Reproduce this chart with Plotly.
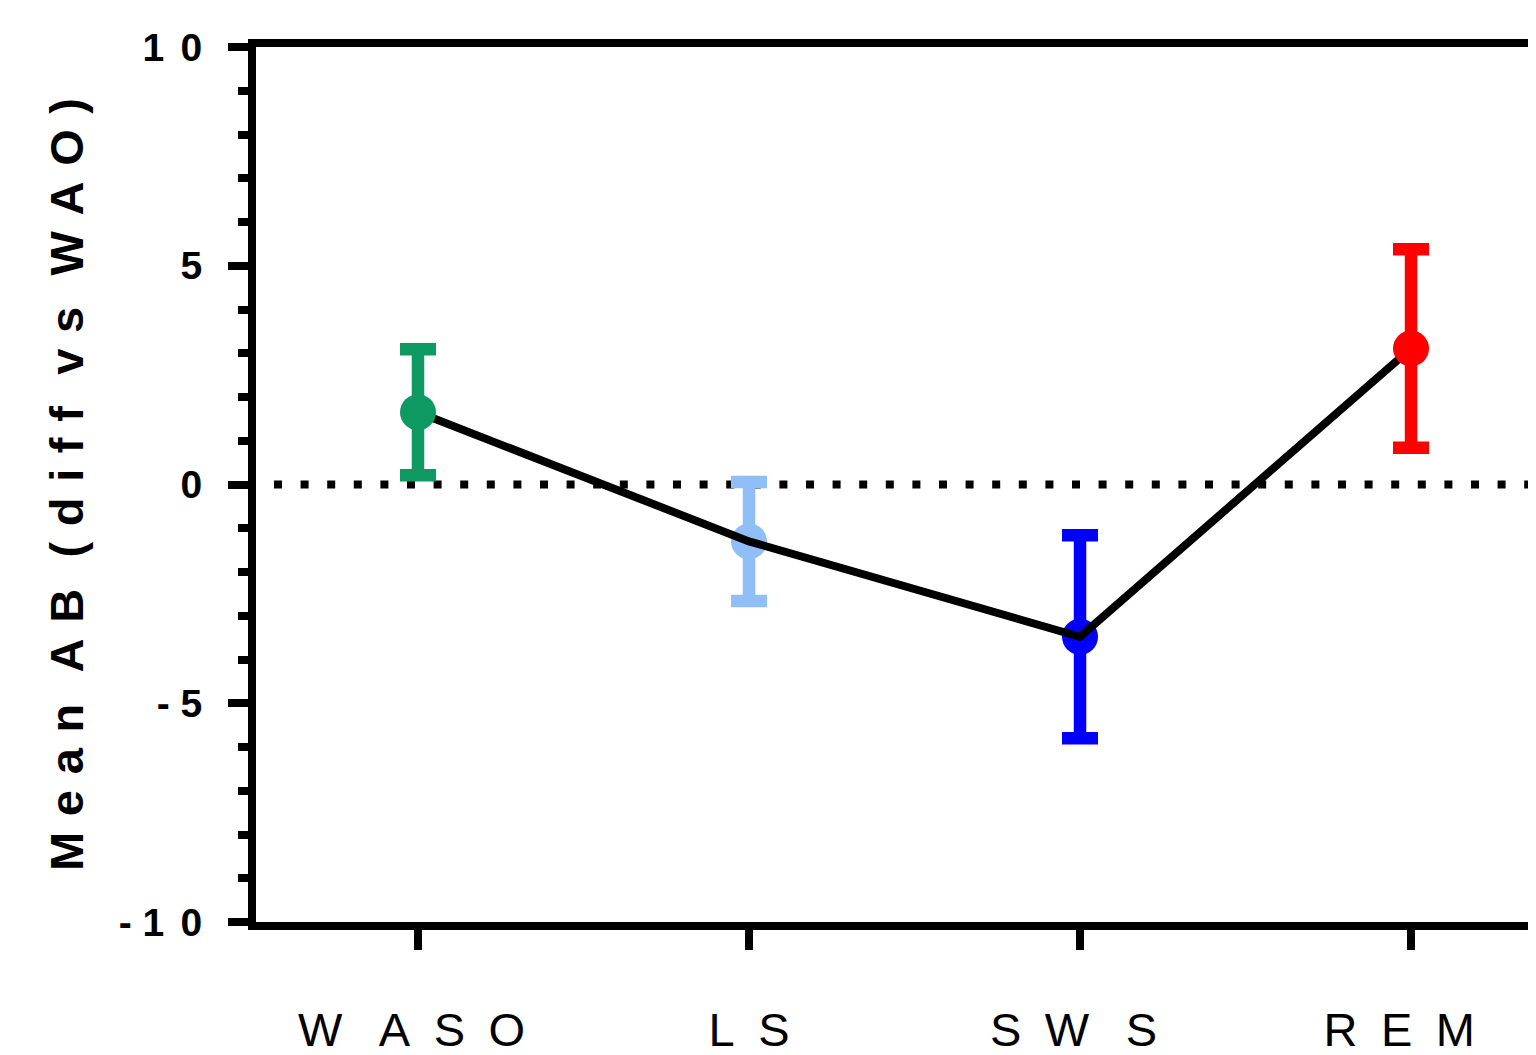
import plotly.graph_objects as go

# ---- data ----
categories = ["WASO", "LS", "SWS", "REM"]
tick_text_x = ["W\u2002\u00a0A\u2002S\u2002O\u00a0", "L\u2002S",
               "S\u2002W\u2002\u00a0S\u00a0", "R\u2002E\u2002M\u2002"]
means = [1.65, -1.30, -3.48, 3.11]
errors = [1.44, 1.36, 2.32, 2.27]
colors = ["#0F9962", "#8FBFF6", "#0000FF", "#FF0000"]
y_tickvals = [-10, -5, 0, 5, 10]
y_ticktext = ["-\u00a01\u2004\u200a0", "-\u00a05", "0", "5", "1\u2004\u200a0"]
y_title = "M e a n  A B  ( d i f f  v s  W A O )".replace(" ", "\u2004")

FONT = "Arial, Liberation Sans, Helvetica, sans-serif"

fig = go.Figure()

def point_trace(i):
    return go.Scatter(
        x=[categories[i]], y=[means[i]], mode="markers",
        marker=dict(size=36, color=colors[i], line=dict(width=0)),
        error_y=dict(type="data", array=[errors[i]], visible=True,
                     color=colors[i], thickness=12.5, width=18),
        showlegend=False, cliponaxis=False,
    )

# LS and SWS under the connecting line, WASO and REM above it
for i in (1, 2):
    fig.add_trace(point_trace(i))
fig.add_trace(go.Scatter(x=categories, y=means, mode="lines",
                         line=dict(color="black", width=8),
                         showlegend=False, cliponaxis=False))
for i in (0, 3):
    fig.add_trace(point_trace(i))

# dotted reference line at zero
fig.add_shape(type="line", xref="paper", yref="y",
              x0=18 / 1280, x1=1, y0=0, y1=0,
              line=dict(color="black", width=8, dash="8px,18.6px"),
              layer="below")

# page body has an 8px margin, so the figure is offset by 8px
fig.update_layout(
    width=1528, height=1047,
    margin=dict(l=248, r=0, t=39, b=133, autoexpand=False),
    plot_bgcolor="white", paper_bgcolor="white",
    font=dict(family=FONT, color="black"),
    showlegend=False,
)

fig.update_xaxes(
    type="category", categoryorder="array", categoryarray=categories,
    range=[-0.4894, 3.3776], automargin=False,
    tickvals=categories, ticktext=tick_text_x,
    showline=True, linewidth=8, linecolor="black", mirror=True,
    ticks="outside", ticklen=20, tickwidth=8, tickcolor="black",
    tickfont=dict(size=47, family=FONT, color="black"),
    ticklabelstandoff=40,
    showgrid=False, zeroline=False,
)

fig.update_yaxes(
    range=[-10, 10], automargin=False,
    tickvals=y_tickvals, ticktext=y_ticktext,
    showline=True, linewidth=8, linecolor="black",
    ticks="outside", ticklen=20, tickwidth=8, tickcolor="black",
    tickfont=dict(size=39, family=FONT, color="black", weight="bold"),
    ticklabelstandoff=18,
    minor=dict(tick0=0, dtick=1, ticks="outside", ticklen=10, tickwidth=8,
               tickcolor="black", showgrid=False),
    showgrid=False, zeroline=False,
    title=dict(text=y_title, standoff=23,
               font=dict(size=47, family=FONT, color="black", weight="bold")),
)

fig.write_html("out.html")
